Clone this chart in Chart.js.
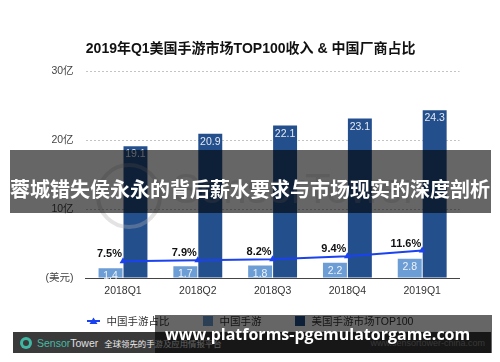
<!DOCTYPE html>
<html><head><meta charset="utf-8">
<script src="https://cdn.jsdelivr.net/npm/chart.js@4.4.1/dist/chart.umd.min.js"></script>
<style>
html,body{margin:0;padding:0;background:#fff;}
#wrap{position:relative;width:500px;height:362px;overflow:hidden;font-family:"Liberation Sans","Noto Sans CJK SC",sans-serif;}
#c{position:absolute;left:0;top:0;}
#wm{position:absolute;left:0;top:0;width:500px;height:362px;pointer-events:none;}
#wmCircle{position:absolute;left:96px;top:163px;width:58px;height:58px;border:4px solid rgba(175,175,175,0.35);border-radius:50%;}
#wmText{position:absolute;left:172px;top:168px;font-size:42px;line-height:42px;color:rgba(175,175,175,0.3);white-space:nowrap;}
#legend{position:absolute;left:0;top:313px;width:500px;height:15px;display:flex;justify-content:center;align-items:center;font-size:10.5px;color:#333;white-space:nowrap;}
.li{display:flex;align-items:center;}
.sw{width:10px;height:10px;margin-right:7px;}
#footer{position:absolute;left:13px;top:332px;width:478px;height:21px;background:#3a3a3a;display:flex;align-items:center;white-space:nowrap;}
#logo{width:12px;height:12px;border-radius:50%;background:#3fb7a2;margin-left:7px;margin-right:5px;position:relative;}
#logo:after{content:"";position:absolute;left:3px;top:3px;width:6px;height:6px;border-radius:50%;background:#3a3a3a;}
#band1{position:absolute;left:10px;top:150px;width:481px;height:63px;background:rgba(0,0,0,0.6);}
#band1 span{position:absolute;left:-10px;top:29px;width:500px;text-align:center;font-family:"Noto Sans CJK SC",sans-serif;font-weight:bold;font-size:20px;line-height:20px;color:#fff;white-space:nowrap;}
#band2{position:absolute;left:155px;top:315px;width:337px;height:38px;background:rgba(0,0,0,0.6);}
#band2 span{position:absolute;left:10px;top:11px;font-family:"Open Sans",sans-serif;font-weight:bold;font-size:16px;line-height:16px;color:#fff;white-space:nowrap;}
</style></head>
<body>
<div id="wrap">
<canvas id="c" width="500" height="362"></canvas>
<div id="wm"><div id="wmCircle"></div><div id="wmText">SensorTower</div></div>
<div id="legend"></div>
<div id="footer"><div id="logo"></div><span style="font-size:10.5px;color:#45b9a5;">Sensor</span><span style="font-size:10.5px;color:#e0e0e0;">Tower</span><span style="font-size:8.4px;color:#eee;margin-left:6px;font-family:'Noto Sans CJK SC',sans-serif;">全球领先的手游及应用情报平台</span><span style="font-size:9px;color:#8a8a8a;margin-left:auto;margin-right:6px;">www.sensortower-china.com</span></div>
<div id="band1"><span>蓉城错失侯永永的背后薪水要求与市场现实的深度剖析</span></div>
<div id="band2"><span>www.platforms-pgemulatorgame.com</span></div>
</div>
<script>
const categories = ['2018Q1','2018Q2','2018Q3','2018Q4','2019Q1'];
const chinaShare = [7.5, 7.9, 8.2, 9.4, 11.6];
const chinaRevenue = [1.4, 1.7, 1.8, 2.2, 2.8];
const usTop100 = [19.1, 20.9, 22.1, 23.1, 24.3];
const yTicks = [0, 10, 20, 30];
const seriesNames = ['中国手游占比', '中国手游', '美国手游市场TOP100'];
const titleText = '2019年Q1美国手游市场TOP100收入 & 中国厂商占比';

const colLine = '#1a42f0';
const colLight = '#6c9dd4';
const colDark = '#244f8d';
const FONT = '"Liberation Sans","Noto Sans CJK SC",sans-serif';

// HTML legend built from series
const lg = document.getElementById('legend');
const legendColors = [colLine, colLight, colDark];
seriesNames.forEach((n, i) => {
  const d = document.createElement('div');
  d.className = 'li';
  if (i > 0) d.style.marginLeft = '33px';
  let sw;
  if (i === 0) {
    sw = '<svg width="13" height="8" style="margin-right:7px"><line x1="0" y1="4" x2="13" y2="4" stroke="' + colLine + '" stroke-width="2"/><polygon points="6.5,0.5 10.5,7 2.5,7" fill="' + colLine + '"/></svg>';
  } else {
    sw = '<div class="sw" style="background:' + legendColors[i] + '"></div>';
  }
  d.innerHTML = sw + '<span>' + n + '</span>';
  lg.appendChild(d);
});

const labelPlugin = {
  id: 'valLabels',
  afterDatasetsDraw(chart) {
    const ctx = chart.ctx;
    ctx.save();
    [1, 2].forEach(di => {
      const meta = chart.getDatasetMeta(di);
      const data = chart.data.datasets[di].data;
      meta.data.forEach((el, i) => {
        ctx.font = '10.5px ' + FONT;
        ctx.fillStyle = 'rgba(255,255,255,0.88)';
        ctx.textAlign = 'center';
        ctx.textBaseline = 'top';
        ctx.fillText(String(data[i]), el.x, el.y + 3);
      });
    });
    const lm = chart.getDatasetMeta(0);
    lm.data.forEach((el, i) => {
      ctx.font = 'bold 11px ' + FONT;
      ctx.fillStyle = '#111';
      ctx.textAlign = 'right';
      ctx.textBaseline = 'alphabetic';
      ctx.fillText(chinaShare[i].toFixed(1) + '%', el.x - 1, el.y - 4);
    });
    ctx.restore();
  }
};

new Chart(document.getElementById('c'), {
  data: {
    labels: categories,
    datasets: [
      { type: 'line', label: seriesNames[0], data: chinaShare, yAxisID: 'y2', order: 0,
        borderColor: colLine, backgroundColor: colLine, borderWidth: 2, tension: 0,
        pointStyle: 'triangle', pointRadius: 4, pointBorderWidth: 0, pointBackgroundColor: colLine },
      { type: 'bar', label: seriesNames[1], data: chinaRevenue, yAxisID: 'y', order: 1,
        backgroundColor: colLight, barPercentage: 0.96, categoryPercentage: 0.667 },
      { type: 'bar', label: seriesNames[2], data: usTop100, yAxisID: 'y', order: 1,
        backgroundColor: colDark, barPercentage: 0.96, categoryPercentage: 0.667 }
    ]
  },
  options: {
    responsive: false,
    animation: false,
    devicePixelRatio: 1,
    layout: { padding: { left: 41.6, right: 40.4, top: 0, bottom: 57.4 } },
    plugins: {
      legend: { display: false },
      tooltip: { enabled: false },
      title: { display: true, text: titleText, color: '#111',
        font: { family: FONT, size: 14, weight: 'bold', lineHeight: 1.2 },
        padding: { top: 41, bottom: 13.2 } }
    },
    scales: {
      x: {
        grid: { display: false, drawTicks: false },
        border: { display: true, color: '#444', width: 1 },
        ticks: { padding: 7, color: '#333', font: { family: FONT, size: 10.5 } }
      },
      y: {
        min: 0, max: 30,
        afterBuildTicks: s => { s.ticks = yTicks.map(v => ({ value: v })); },
        afterFit: s => { s.width = 44; },
        grid: { drawTicks: false, lineWidth: 1,
          color: c => (c.tick && c.tick.value === 0) ? 'rgba(0,0,0,0)' : '#c4c4c4' },
        border: { display: false, dash: [2, 2] },
        ticks: { padding: 12, color: '#444', font: { family: FONT, size: 10.5 },
          callback: v => v === 0 ? '(美元)' : v + '亿' }
      },
      y2: { display: false, min: 1, max: 81 }
    }
  },
  plugins: [labelPlugin]
});
</script>
</body></html>
